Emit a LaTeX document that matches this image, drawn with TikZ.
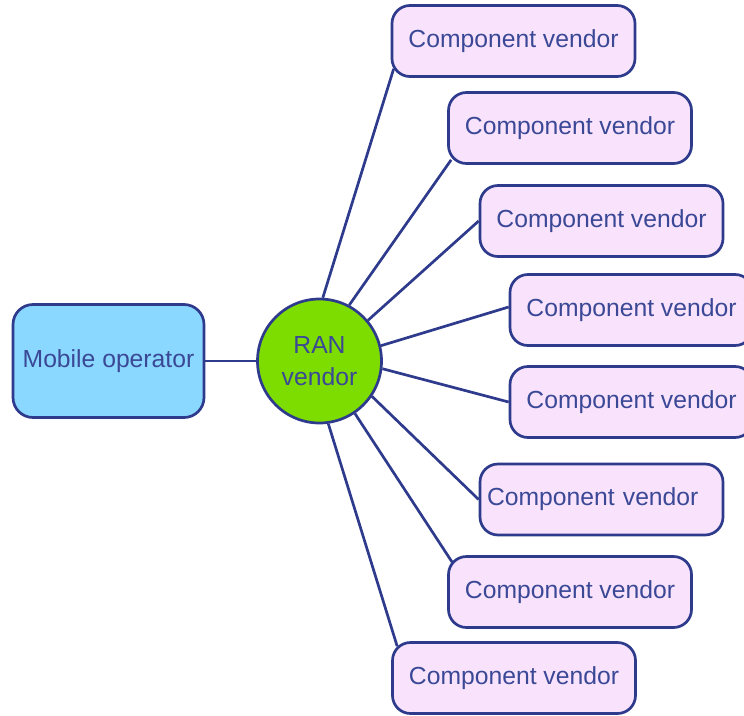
\documentclass[tikz,border=0pt]{standalone}
\usepackage{fontspec}
\setmainfont{Liberation Sans}
\usetikzlibrary{calc}
\definecolor{edge}{HTML}{2E3A8C}
\definecolor{txt}{HTML}{3A4896}
\definecolor{opfill}{HTML}{8AD8FF}
\definecolor{cvfill}{HTML}{F9E3FC}
\definecolor{ranfill}{HTML}{7EDD00}
\begin{document}
\begin{tikzpicture}[x=1pt,y=-1pt,
  base/.style={draw=edge,line width=2.7pt,text=txt,font=\fontsize{24.7}{32}\selectfont,inner sep=0pt},
  opbox/.style={base,fill=opfill,rounded corners=20pt,minimum width=191pt,minimum height=113pt},
  cvbox/.style={base,fill=cvfill,rounded corners=18pt,minimum width=243pt,minimum height=71pt},
  rancirc/.style={base,fill=ranfill,circle,minimum size=124pt,align=center},
  link/.style={draw=edge,line width=2.7pt}]
\useasboundingbox (0,0) rectangle (744,715);
\node[opbox] (op) at (108.5,361) {Mobile operator};
\node[rancirc] (ran) at (319.5,361) {RAN\\vendor};
\node[cvbox] (c1) at (513.5,41) {Component vendor};
\node[cvbox] (c2) at (570,128) {Component vendor};
\node[cvbox] (c3) at (601.5,221) {Component vendor};
\node[cvbox] (c4) at (631.5,310) {Component vendor};
\node[cvbox] (c5) at (631.5,402) {Component vendor};
\node[cvbox,text width=229pt,align=left] (c6) at (601.5,499.5) {Component vendor};
\node[cvbox] (c7) at (570,592) {Component vendor};
\node[cvbox] (c8) at (514,678) {Component vendor};
\draw[link] (op.east) -- (ran.west);
\draw[link] (ran.87.7) -- ([shift={(3,-9)}]c1.south west);
\draw[link] (ran.62.8) -- ([shift={(4,-5)}]c2.south west);
\draw[link] (ran.40.6) -- (c3.west);
\draw[link] (ran.14.8) -- ([shift={(0,-3)}]c4.west);
\draw[link] (ran.-7.6) -- (c5.west);
\draw[link] (ran.-34) -- (c6.west);
\draw[link] (ran.-56.4) -- ([shift={(5,7)}]c7.north west);
\draw[link] (ran.-82) -- ([shift={(6,5)}]c8.north west);
\end{tikzpicture}
\end{document}
